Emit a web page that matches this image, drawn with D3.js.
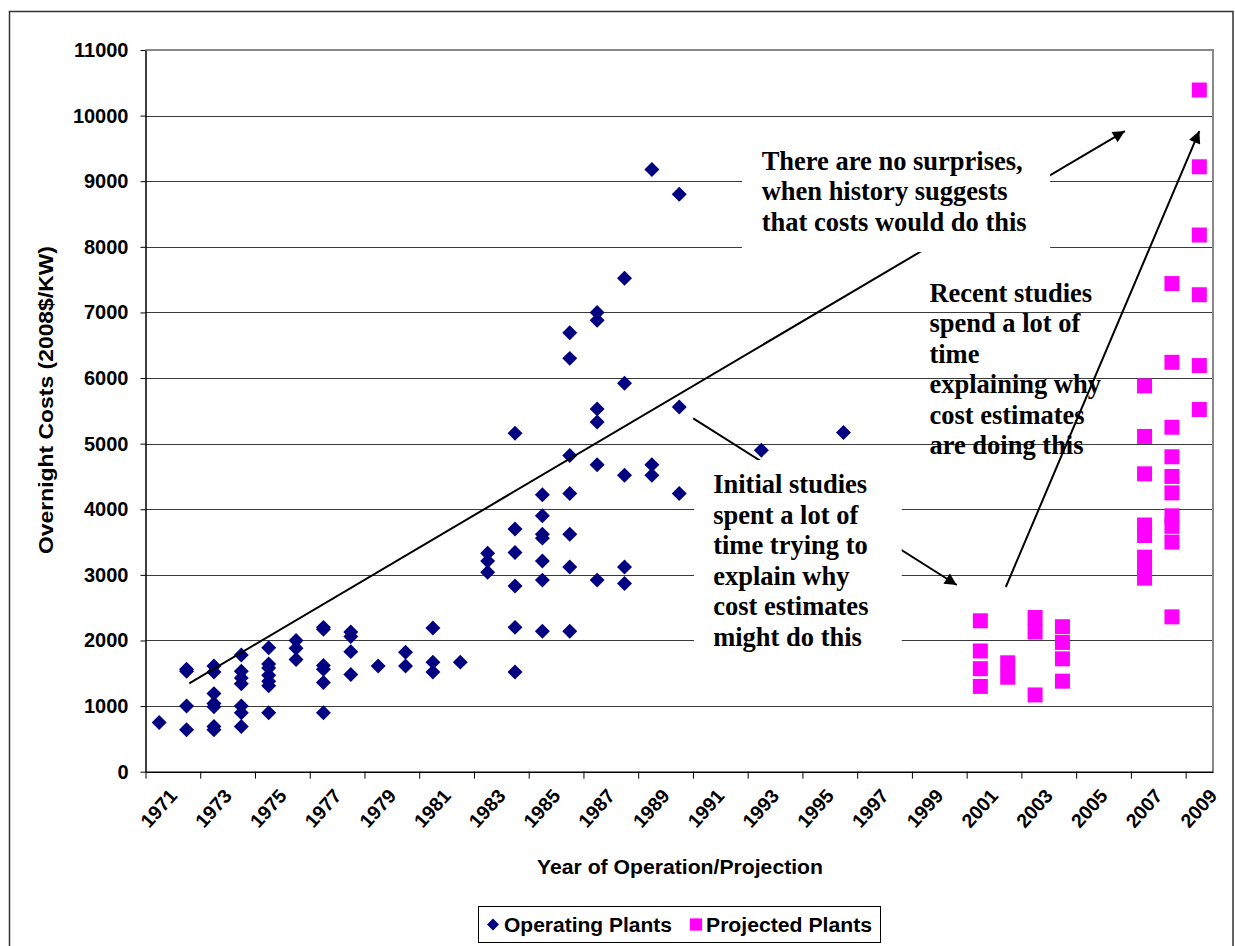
<!DOCTYPE html>
<html><head><meta charset="utf-8">
<script src="https://cdn.jsdelivr.net/npm/d3@7"></script>
<style>body{margin:0;background:#fff}</style>
</head><body><svg id="chart" width="1235" height="946"></svg>
<script>
// ---------------- data ----------------
const years = ["1971","1972","1973","1974","1975","1976","1977","1978","1979","1980",
  "1981","1982","1983","1984","1985","1986","1987","1988","1989","1990",
  "1991","1992","1993","1994","1995","1996","1997","1998","1999","2000",
  "2001","2002","2003","2004","2005","2006","2007","2008","2009"];
const yTicks = [0,1000,2000,3000,4000,5000,6000,7000,8000,9000,10000,11000];

const operatingYears = [
  1971,
  1972,1972,1972,1972,
  1973,1973,1973,1973,1973,1973,1973,
  1974,1974,1974,1974,1974,1974,1974,
  1975,1975,1975,1975,1975,1975,1975,
  1976,1976,1976,
  1977,1977,1977,1977,1977,1977,
  1978,1978,1978,1978,
  1979,
  1980,1980,
  1981,1981,1981,
  1982,
  1983,1983,1983,
  1984,1984,1984,1984,1984,1984,
  1985,1985,1985,1985,1985,1985,1985,
  1986,1986,1986,1986,1986,1986,1986,
  1987,1987,1987,1987,1987,1987,
  1988,1988,1988,1988,1988,
  1989,1989,1989,
  1990,1990,1990,
  1993,
  1996];
const operatingCosts = [
  750,
  1560,1530,1000,640,
  1610,1520,1190,1040,990,690,640,
  1780,1530,1430,1340,1000,900,690,
  1890,1640,1580,1470,1380,1310,900,
  2000,1880,1710,
  2200,2170,1620,1560,1360,900,
  2130,2060,1830,1480,
  1610,
  1820,1610,
  2190,1670,1520,
  1670,
  3330,3210,3040,
  5160,3700,3340,2830,2200,1520,
  4220,3900,3620,3560,3210,2920,2140,
  6690,6300,4820,4240,3620,3120,2140,
  7000,6880,5530,5330,4680,2920,
  7520,5920,4520,3120,2870,
  9180,4680,4520,
  8800,5560,4240,
  4900,
  5170];

const projectedYears = [
  2001,2001,2001,2001,
  2002,2002,
  2003,2003,2003,
  2004,2004,2004,2004,
  2007,2007,2007,2007,2007,2007,2007,2007,
  2008,2008,2008,2008,2008,2008,2008,2008,2008,2008,
  2009,2009,2009,2009,2009,2009];
const projectedCosts = [
  2300,1840,1570,1300,
  1660,1440,
  2350,2130,1170,
  2210,1970,1720,1380,
  5880,5110,4540,3760,3600,3270,3100,2950,
  7440,6240,5250,4800,4500,4250,3900,3740,3500,2360,
  10390,9220,8180,7270,6190,5520];

const seriesNames = ["Operating Plants","Projected Plants"];
const xTitle = "Year of Operation/Projection";
const yTitle = "Overnight Costs (2008$/KW)";

// annotations: positions in (category index, cost) space
const noteTop = ["There are no surprises,","when history suggests","that costs would do this"];
const noteRight = ["Recent studies","spend a lot of","time","explaining why","cost estimates","are doing this"];
const noteMid = ["Initial studies","spent a lot of","time trying to","explain why","cost estimates","might do this"];

// ---------------- chart ----------------
const svg = d3.select("#chart");
const P = {left:145.5, right:1213, top:50, bottom:771.7};
const sans = "'Liberation Sans', Arial, sans-serif";
const serif = "'Liberation Serif', 'Times New Roman', serif";

const x = d3.scaleBand().domain(years).range([P.left, P.right]);
const xi = d3.scaleLinear().domain([0, years.length]).range([P.left, P.right]);
const y = d3.scaleLinear().domain([0, 11000]).range([P.bottom, P.top]);
const cx = yr => x(String(yr)) + x.bandwidth()/2;

// outer frame
svg.append("rect").attr("x",9.5).attr("y",11.5).attr("width",1223.5).attr("height",960)
  .attr("fill","none").attr("stroke","#333").attr("stroke-width",1.5);

// gridlines
svg.append("g").selectAll("line").data(yTicks.filter(d => d > 0 && d < 11000)).join("line")
  .attr("x1",P.left).attr("x2",P.right)
  .attr("y1",d => Math.round(y(d))+0.5).attr("y2",d => Math.round(y(d))+0.5)
  .attr("stroke","#3a3a3a").attr("stroke-width",1);

// plot border top/right
svg.append("path")
  .attr("d",`M${P.left},${P.top} H${P.right} V${P.bottom}`)
  .attr("fill","none").attr("stroke","#888").attr("stroke-width",2);

// y axis
const gy = svg.append("g").attr("transform",`translate(${P.left},0)`)
  .call(d3.axisLeft(y).tickValues(yTicks).tickSize(5).tickPadding(12).tickSizeOuter(0).tickFormat(d3.format("d")));
gy.select(".domain").attr("stroke","#000").attr("stroke-width",1.5);
gy.selectAll(".tick line").attr("stroke","#000");
gy.selectAll("text").attr("font-family",sans).attr("font-weight","bold").attr("font-size",20).attr("fill","#000");

// x axis (tick marks at every second category boundary)
const gx = svg.append("g").attr("transform",`translate(0,${P.bottom})`)
  .call(d3.axisBottom(xi).tickValues(d3.range(0, years.length, 2)).tickSize(7).tickSizeOuter(0).tickFormat(""));
gx.select(".domain").attr("stroke","#000").attr("stroke-width",1.5);
gx.selectAll(".tick line").attr("stroke","#000");

// x labels every second year, rotated
svg.append("g").selectAll("text").data(years.filter((d,i) => i % 2 === 0)).join("text")
  .attr("transform", d => `translate(${cx(d)+19},${P.bottom+25}) rotate(-48)`)
  .attr("text-anchor","end")
  .attr("font-family",sans).attr("font-weight","bold").attr("font-size",19.5)
  .text(d => d);

// axis titles
svg.append("text").attr("x",680).attr("y",874).attr("text-anchor","middle")
  .attr("font-family",sans).attr("font-weight","bold").attr("font-size",20)
  .attr("textLength",286).attr("lengthAdjust","spacingAndGlyphs").text(xTitle);
svg.append("text").attr("transform","translate(53,400) rotate(-90)").attr("text-anchor","middle")
  .attr("font-family",sans).attr("font-weight","bold").attr("font-size",20)
  .attr("textLength",308).attr("lengthAdjust","spacingAndGlyphs").text(yTitle);

// points
const diamond = d3.symbol().type(d3.symbolSquare).size(112);
const square = d3.symbol().type(d3.symbolSquare).size(225);
svg.append("g").selectAll("path").data(operatingYears.map((yr,i) => [yr, operatingCosts[i]])).join("path")
  .attr("d", diamond)
  .attr("transform", d => `translate(${cx(d[0])},${y(d[1])}) rotate(45)`)
  .attr("fill","#000080");
svg.append("g").selectAll("path").data(projectedYears.map((yr,i) => [yr, projectedCosts[i]])).join("path")
  .attr("d", square)
  .attr("transform", d => `translate(${cx(d[0])},${y(d[1])})`)
  .attr("fill","#FF00FF");

// arrowhead marker
svg.append("defs").append("marker").attr("id","ah")
  .attr("viewBox","0 0 10 10").attr("refX",10).attr("refY",5)
  .attr("markerWidth",16).attr("markerHeight",12).attr("markerUnits","userSpaceOnUse")
  .attr("orient","auto")
  .append("path").attr("d","M0,0 L10,5 L0,10 Z").attr("fill","#000");

function arrow(a, b) {
  svg.append("line")
    .attr("x1", xi(a[0])).attr("y1", y(a[1]))
    .attr("x2", xi(b[0])).attr("y2", y(b[1]))
    .attr("stroke","#000").attr("stroke-width",2).attr("marker-end","url(#ah)");
}
function note(lines, at, box) {
  if (box) {
    svg.append("rect")
      .attr("x", xi(box[0])).attr("y", y(box[1]))
      .attr("width", xi(box[2]) - xi(box[0])).attr("height", y(box[3]) - y(box[1]))
      .attr("fill","#fff");
  }
  const t = svg.append("text").attr("font-family",serif).attr("font-weight","bold")
    .attr("font-size",26.5).attr("fill","#000");
  lines.forEach((s,i) => t.append("tspan").attr("x", xi(at[0])).attr("y", y(at[1]) + i*30.5).text(s));
}

arrow([1.60,1347],[35.78,9765]);
arrow([20.01,5386],[29.64,2846]);
note(noteTop, [22.51,9171], [21.79,9530,33.05,7920]);
note(noteMid, [20.74,4243], [20.04,4751,27.63,1700]);
note(noteRight, [28.64,7164], null);
arrow([31.43,2815],[38.50,9765]);

// legend
const lg = svg.append("g");
lg.append("rect").attr("x",478.5).attr("y",906.5).attr("width",402).attr("height",36)
  .attr("fill","#fff").attr("stroke","#000").attr("stroke-width",1);
lg.append("path").attr("d", d3.symbol().type(d3.symbolSquare).size(72))
  .attr("transform","translate(493,924.5) rotate(45)").attr("fill","#000080");
lg.append("text").attr("x",504).attr("y",931.5).attr("font-family",sans).attr("font-weight","bold")
  .attr("font-size",20).attr("textLength",168).attr("lengthAdjust","spacingAndGlyphs").text(seriesNames[0]);
lg.append("path").attr("d", d3.symbol().type(d3.symbolSquare).size(150))
  .attr("transform","translate(696,924.5)").attr("fill","#FF00FF");
lg.append("text").attr("x",706).attr("y",931.5).attr("font-family",sans).attr("font-weight","bold")
  .attr("font-size",20).attr("textLength",166).attr("lengthAdjust","spacingAndGlyphs").text(seriesNames[1]);
</script>
</body></html>
